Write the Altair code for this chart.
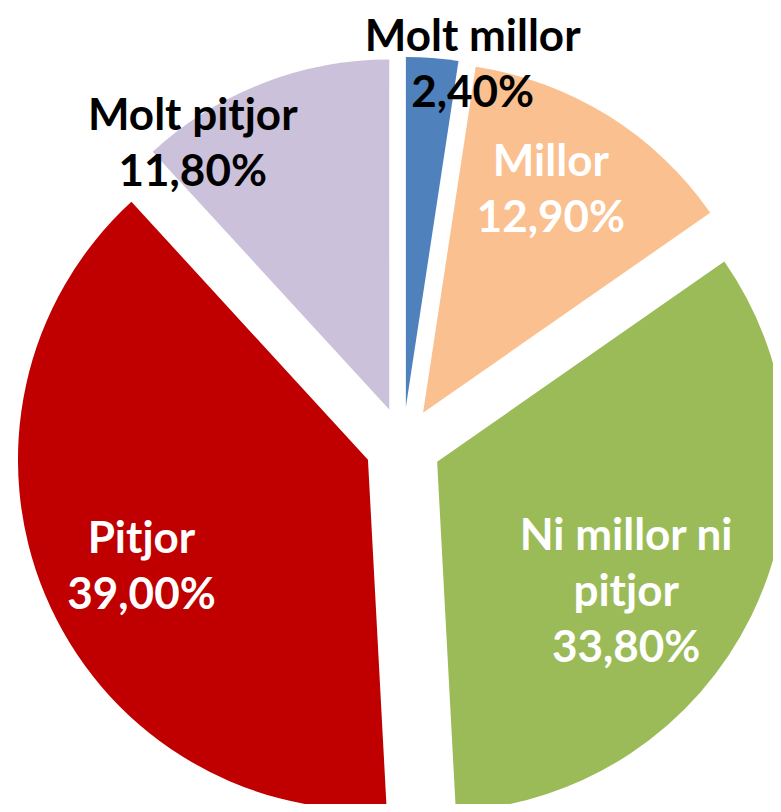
import altair as alt
import pandas as pd

# ---- data ----
categories = ["Molt millor", "Millor", "Ni millor ni pitjor", "Pitjor", "Molt pitjor"]
values = [2.4, 12.9, 33.8, 39.0, 11.8]
label_names = ["Molt millor", "Millor", "Ni millor ni\npitjor", "Pitjor", "Molt pitjor"]

# ---- styles ----
colors = ["#4F81BD", "#FAC090", "#9BBB59", "#C00000", "#CCC1DA"]
label_colors = ["#000000", "#FFFFFF", "#FFFFFF", "#FFFFFF", "#000000"]

# ---- layout ----
W, H = 765, 796
CX, CY = 395, 437          # pie centre inside the plot area (px)
R = 350                    # outer radius
EXPLODE = 38               # explosion distance
LINE_H = 56
# label distance from the pie centre and angular nudge (deg) per slice
label_dist = {"Molt millor": 385, "Millor": 294, "Ni millor ni pitjor": 268,
              "Pitjor": 289, "Molt pitjor": 366}
label_shift = {"Molt millor": 6.1, "Millor": -1.7, "Ni millor ni pitjor": 7.6,
               "Pitjor": -2.4, "Molt pitjor": -13.8}

labels_txt = [f"{n}\n{v:.2f}".replace(".", ",") + "%" for n, v in zip(label_names, values)]
df = pd.DataFrame({
    "order": list(range(len(categories))),
    "category": categories,
    "value": values,
    "label": labels_txt,
    "nlines": [t.count("\n") + 1 for t in labels_txt],
    "label_color": label_colors,
    "ldist": [label_dist[c] for c in categories],
    "lshift": [label_shift[c] for c in categories],
})

base = (
    alt.Chart(df)
    .transform_joinaggregate(total="sum(value)")
    .transform_window(cum="sum(value)", sort=[alt.SortField("order")], frame=[None, 0])
    .transform_calculate(t1="datum.cum / datum.total * 2 * PI")
    .transform_calculate(t0="(datum.cum - datum.value) / datum.total * 2 * PI")
    .transform_calculate(mid="(datum.t0 + datum.t1) / 2")
    .transform_calculate(cx=f"{CX} + {EXPLODE} * sin(datum.mid)")
    .transform_calculate(cy=f"{CY} - {EXPLODE} * cos(datum.mid)")
)

arcs = base.mark_arc(outerRadius=R, clip=True).encode(
    theta=alt.Theta("t0:Q", scale=None),
    theta2="t1:Q",
    x=alt.X("cx:Q", scale=None, axis=None),
    y=alt.Y("cy:Q", scale=None, axis=None),
    color=alt.Color("category:N", scale=alt.Scale(domain=categories, range=colors), legend=None),
)

labels = (
    base.transform_calculate(la="datum.mid + datum.lshift * PI / 180")
    .transform_calculate(lx=f"{CX} + datum.ldist * sin(datum.la)")
    .transform_calculate(ly=f"{CY} - datum.ldist * cos(datum.la) - (datum.nlines - 1) * {LINE_H} / 2")
    .mark_text(font="Lato", fontWeight="bold", fontSize=44, lineBreak="\n",
               lineHeight=LINE_H, align="center", baseline="middle")
    .encode(
        x=alt.X("lx:Q", scale=None, axis=None),
        y=alt.Y("ly:Q", scale=None, axis=None),
        text="label:N",
        color=alt.Color("label_color:N", scale=None),
    )
)

chart = (
    alt.layer(arcs, labels)
    .properties(width=W, height=H, padding=0, autosize=alt.AutoSizeParams(type="none"))
    .configure_view(stroke=None)
)

chart.save("out.html", embed_options={"renderer": "svg", "actions": False})
